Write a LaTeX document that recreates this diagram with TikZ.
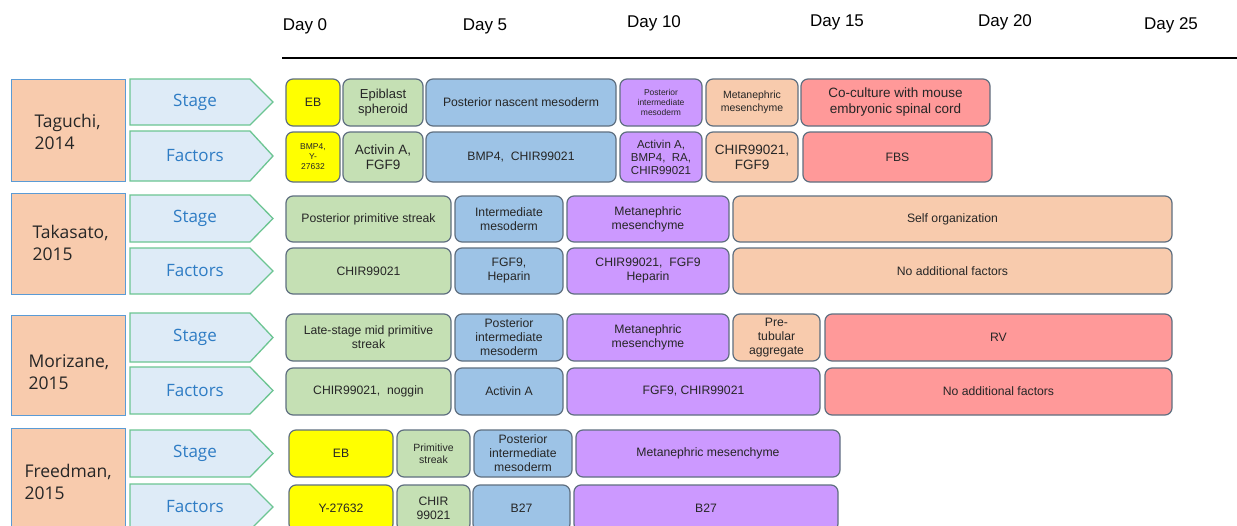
\documentclass[tikz,border=0pt]{standalone}
\usepackage{fontspec}
\setmainfont{Liberation Sans}
\newfontfamily\authfont{Open Sans}
\definecolor{cyel}{HTML}{FFFF00}
\definecolor{cgrn}{HTML}{C5E0B4}
\definecolor{cblu}{HTML}{9DC3E6}
\definecolor{cpur}{HTML}{CC99FF}
\definecolor{cpch}{HTML}{F8CBAD}
\definecolor{cred}{HTML}{FF9999}
\definecolor{cedge}{HTML}{5F6F80}
\definecolor{arrfill}{HTML}{DEEBF7}
\definecolor{arredge}{HTML}{6CC592}
\definecolor{arrtext}{HTML}{2E7CC4}
\definecolor{authedge}{HTML}{5B9BD5}
\definecolor{txt}{HTML}{262626}
\newcommand\cell[7]{\node[cellbox,#6,minimum width={(#3-#2)*1pt},minimum height={(#5-#4)*1pt}] (#1) at ({(#2+#3)/2},{(#4+#5)/2}) {#7};}
\newcommand\tagarrow[4]{%
  \draw[arrowbox] (130,#2) -- (250,#2) -- (273,{(#2+#3)/2}) -- (250,#3) -- (130,#3) -- cycle;
  \node[arrowlabel] (#1) at (195,{(#2+#3)/2}) {#4};}
\tikzset{
  cellbox/.style={draw=cedge,line width=1.2pt,rounded corners=7pt,inner sep=1pt,align=center,font=\fontsize{12.2}{14}\selectfont,text=txt},
  tiny/.style={font=\fontsize{8.5}{10}\selectfont},
  arrowbox/.style={draw=arredge,fill=arrfill,line width=1.3pt},
  arrowlabel/.style={text=arrtext,font=\authfont\fontsize{17}{20}\selectfont},
  authbox/.style={draw=authedge,fill=cpch,line width=1pt,inner sep=0pt},
  authlabel/.style={text=txt,anchor=west,align=left,font=\authfont\fontsize{17.5}{21.5}\selectfont},
  daylabel/.style={text=black,font=\fontsize{17}{19}\selectfont}
}
\begin{document}
\begin{tikzpicture}[x=1pt,y=-1pt]
\useasboundingbox[fill=white] (0,0) rectangle (1237,525);
% header
\node[daylabel] (d0) at (305,26) {Day 0};
\node[daylabel] (d5) at (485,26) {Day 5};
\node[daylabel] (d10) at (654,23) {Day 10};
\node[daylabel] (d15) at (837,22) {Day 15};
\node[daylabel] (d20) at (1005,22) {Day 20};
\node[daylabel] (d25) at (1171,25) {Day 25};
\coordinate (ls) at (282,58);
\coordinate (le) at (1237,58);
\draw[line width=2pt] (ls) -- (le);
% authors
\node[authbox,minimum width=114pt,minimum height=102pt] (a1) at (68,130) {};
\node[authlabel] (a1t) at (31,132) {Taguchi,\\2014};
\node[authbox,minimum width=114pt,minimum height=101pt] (a2) at (68,243.5) {};
\node[authlabel] (a2t) at (29,243) {Takasato,\\2015};
\node[authbox,minimum width=114pt,minimum height=100pt] (a3) at (68,365) {};
\node[authlabel] (a3t) at (25,372) {Morizane,\\2015};
\node[authbox,minimum width=114pt,minimum height=104pt] (a4) at (68,480) {};
\node[authlabel] (a4t) at (21,482) {Freedman,\\2015};
% arrows
\tagarrow{s1}{79}{125}{Stage}
\tagarrow{f1}{131}{181}{Factors}
\tagarrow{s2}{195}{242}{Stage}
\tagarrow{f2}{248}{294}{Factors}
\tagarrow{s3}{313}{362}{Stage}
\tagarrow{f3}{367}{414}{Factors}
\tagarrow{s4}{430}{477}{Stage}
\tagarrow{f4}{484}{530}{Factors}
% Taguchi
\cell{t1}{286}{340}{79}{126}{fill=cyel}{EB}
\cell{t2}{343}{423}{79}{126}{fill=cgrn,font=\fontsize{13}{15}\selectfont}{Epiblast\\spheroid}
\cell{t3}{426}{616}{79}{126}{fill=cblu}{Posterior nascent mesoderm}
\cell{t4}{620}{702}{79}{126}{fill=cpur,tiny}{Posterior\\intermediate\\mesoderm}
\cell{t5}{706}{798}{79}{126}{fill=cpch,font=\fontsize{10.5}{12.5}\selectfont}{Metanephric\\mesenchyme}
\cell{t6}{801}{990}{79}{126}{fill=cred,font=\fontsize{13.5}{16}\selectfont}{Co-culture with mouse\\embryonic spinal cord}
\cell{u1}{286}{340}{132}{182}{fill=cyel,tiny}{BMP4,\\Y-\\27632}
\cell{u2}{343}{423}{132}{182}{fill=cgrn,font=\fontsize{13.5}{15}\selectfont}{Activin A,\\FGF9}
\cell{u3}{426}{616}{132}{182}{fill=cblu}{BMP4,~ CHIR99021}
\cell{u4}{620}{702}{132}{182}{fill=cpur,font=\fontsize{11.5}{13}\selectfont}{Activin A,\\BMP4,~ RA,\\CHIR99021}
\cell{u5}{706}{798}{132}{182}{fill=cpch,font=\fontsize{13.5}{15}\selectfont}{CHIR99021,\\FGF9}
\cell{u6}{803}{992}{132}{182}{fill=cred}{FBS}
% Takasato
\cell{k1}{286}{451}{196}{242}{fill=cgrn}{Posterior primitive streak}
\cell{k2}{455}{563}{196}{242}{fill=cblu}{Intermediate\\mesoderm}
\cell{k3}{567}{729}{196}{242}{fill=cpur}{Metanephric\\mesenchyme}
\cell{k4}{733}{1172}{196}{242}{fill=cpch}{Self organization}
\cell{m1}{286}{451}{248}{294}{fill=cgrn}{CHIR99021}
\cell{m2}{455}{563}{248}{294}{fill=cblu}{FGF9,\\Heparin}
\cell{m3}{567}{729}{248}{294}{fill=cpur}{CHIR99021,~ FGF9\\Heparin}
\cell{m4}{733}{1172}{248}{294}{fill=cpch}{No additional factors}
% Morizane
\cell{z1}{286}{451}{314}{361}{fill=cgrn}{Late-stage mid primitive\\streak}
\cell{z2}{455}{563}{314}{361}{fill=cblu}{Posterior\\intermediate\\mesoderm}
\cell{z3}{567}{729}{314}{361}{fill=cpur}{Metanephric\\mesenchyme}
\cell{z4}{733}{820}{314}{361}{fill=cpch}{Pre-\\tubular\\aggregate}
\cell{z5}{825}{1172}{314}{361}{fill=cred}{RV}
\cell{w1}{286}{451}{368}{415}{fill=cgrn}{CHIR99021,~ noggin}
\cell{w2}{455}{563}{368}{415}{fill=cblu}{Activin A}
\cell{w3}{567}{820}{368}{415}{fill=cpur}{FGF9, CHIR99021}
\cell{w4}{825}{1172}{368}{415}{fill=cred}{No additional factors}
% Freedman
\cell{r1}{289}{393}{430}{477}{fill=cyel}{EB}
\cell{r2}{397}{470}{430}{477}{fill=cgrn,font=\fontsize{10.5}{12.5}\selectfont}{Primitive\\streak}
\cell{r3}{474}{572}{430}{477}{fill=cblu}{Posterior\\intermediate\\mesoderm}
\cell{r4}{576}{840}{430}{477}{fill=cpur}{Metanephric mesenchyme}
\cell{v1}{289}{393}{485}{531}{fill=cyel}{Y-27632}
\cell{v2}{397}{470}{485}{531}{fill=cgrn}{CHIR\\99021}
\cell{v3}{473}{570}{485}{531}{fill=cblu}{B27}
\cell{v4}{574}{838}{485}{531}{fill=cpur}{B27}
\end{tikzpicture}
\end{document}
